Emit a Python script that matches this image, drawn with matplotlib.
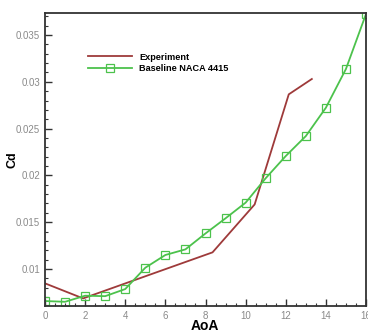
import matplotlib
matplotlib.use("Agg")
import matplotlib.pyplot as plt
from matplotlib.ticker import MultipleLocator

plt.rcParams['font.family'] = ['Liberation Sans', 'DejaVu Sans']

# experiment curve (kinks)
exp_aoa = [0.0, 1.9, 8.35, 10.45, 12.15, 13.3]
exp_cd = [0.00847, 0.00686, 0.01178, 0.0169, 0.02866, 0.0303]

# baseline NACA 4415 at integer AoA
base_aoa = [0, 1, 2, 3, 4, 5, 6, 7, 8, 9, 10, 11, 12, 13, 14, 15, 16]
base_cd = [0.00658, 0.0065, 0.00715, 0.0071, 0.00786, 0.01014, 0.0115, 0.0121,
           0.0138, 0.01542, 0.01709, 0.0197, 0.02207, 0.0242, 0.02723, 0.03137, 0.03724]

fig = plt.figure(figsize=(3.68, 3.3), dpi=100)
ax = fig.add_axes([45/368, 1-306/330, 321/368, 293/330])

ax.plot(exp_aoa, exp_cd, color='#9e3a3a', lw=1.3, label='Experiment')
ax.plot(base_aoa, base_cd, color='#4cc24c', lw=1.3, marker='s', ms=6,
        mfc='none', mec='#4cc24c', mew=0.9, label='Baseline NACA 4415')

ax.set_xlim(0, 16)
ax.set_ylim(0.00605, 0.03735)
ax.xaxis.set_major_locator(MultipleLocator(2))
ax.xaxis.set_minor_locator(MultipleLocator(0.5))
ax.yaxis.set_major_locator(MultipleLocator(0.005))
ax.yaxis.set_minor_locator(MultipleLocator(0.001))
ax.yaxis.set_major_formatter(plt.FuncFormatter(lambda v, p: ('%.3f' % v).rstrip('0').rstrip('.') if v > 0.0061 else ''))

ax.tick_params(which='both', direction='in', labelsize=7, labelcolor='#8a8a8a',
               color='#333333', top=False, right=False)
ax.tick_params(which='major', length=5, width=1)
ax.tick_params(which='minor', length=2.5, width=0.8)
for s in ax.spines.values():
    s.set_color('#333333')
    s.set_linewidth(1.3)

fig.text(13/368, 1-160/330, 'Cd', rotation=90, fontsize=9, fontweight='bold',
         ha='center', va='center')
fig.text(205/368, 1-326/330, 'AoA', fontsize=10, fontweight='bold',
         ha='center', va='center')

leg = ax.legend(loc='upper left', bbox_to_anchor=(83/368, 1-48/330),
                bbox_transform=fig.transFigure, frameon=False, borderpad=0,
                handlelength=4.8, handletextpad=0.8, labelspacing=0.25,
                prop={'size': 6.6, 'weight': 'bold'})

fig.savefig('out.png', dpi=100)
